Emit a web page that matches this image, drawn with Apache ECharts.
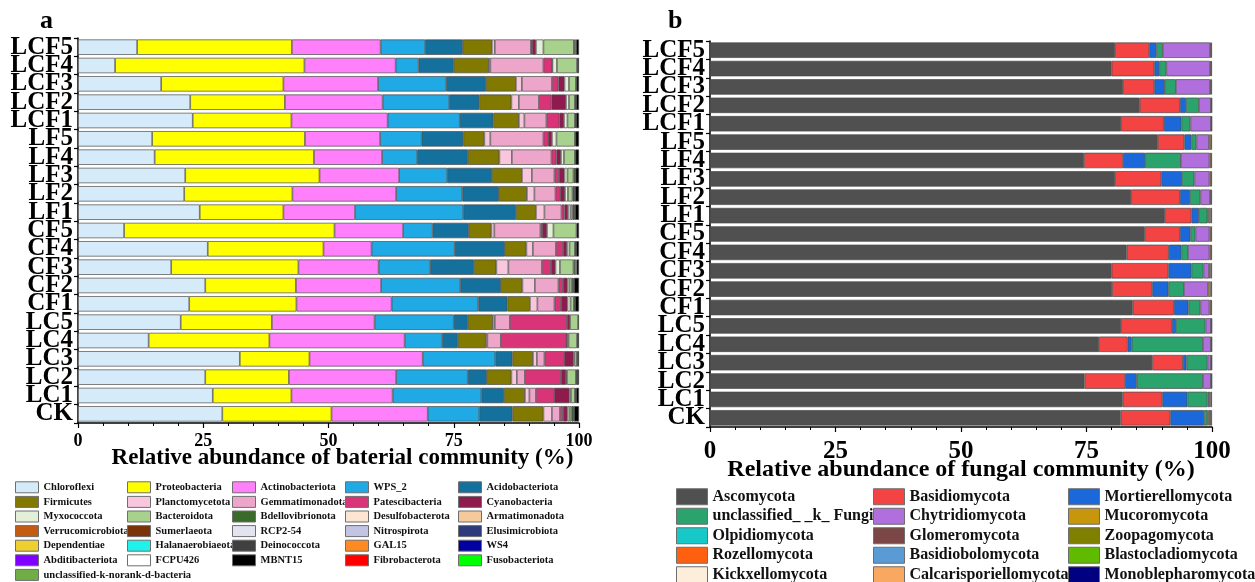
<!DOCTYPE html>
<html>
<head>
<meta charset="utf-8">
<script src="https://cdn.jsdelivr.net/npm/echarts@6/dist/echarts.min.js"></script>
<style>
  html, body { margin: 0; padding: 0; background: #ffffff; }
  #chart { width: 1255px; height: 582px; }
</style>
</head>
<body>
<div id="chart"></div>
<script>
// Samples, top to bottom
const samples = ['LCF5', 'LCF4', 'LCF3', 'LCF2', 'LCF1', 'LF5', 'LF4', 'LF3', 'LF2', 'LF1',
                 'CF5', 'CF4', 'CF3', 'CF2', 'CF1', 'LC5', 'LC4', 'LC3', 'LC2', 'LC1', 'CK'];
const xTicks = [0, 25, 50, 75, 100];

// Bacterial phyla, relative abundance (%) per sample
const Chloroflexi       = [11.8, 7.4, 16.6, 22.4, 22.9, 14.8, 15.3, 21.4, 21.2, 24.3, 9.2, 25.9, 18.6, 25.4, 22.2, 20.5, 14.1, 32.3, 25.4, 26.9, 28.8];
const Proteobacteria    = [30.9, 37.8, 24.4, 18.9, 19.7, 30.5, 31.8, 26.8, 21.6, 16.7, 42.0, 23.1, 25.4, 18.1, 21.4, 18.2, 24.1, 13.9, 16.7, 15.7, 21.8];
const Actinobacteriota  = [17.7, 18.2, 18.9, 19.5, 19.2, 15.0, 13.6, 15.9, 20.7, 14.3, 13.7, 9.6, 16.0, 17.0, 19.0, 20.5, 27.0, 22.6, 21.4, 20.2, 19.2];
const WPS_2             = [8.9, 4.6, 13.6, 13.3, 14.4, 8.3, 7.0, 9.6, 13.2, 21.6, 5.9, 16.6, 10.3, 15.8, 17.3, 15.8, 7.5, 14.5, 14.3, 17.7, 10.3];
const Acidobacteriota   = [7.5, 7.0, 7.9, 6.0, 6.7, 8.3, 10.1, 8.9, 7.3, 10.5, 7.2, 10.0, 8.7, 8.1, 5.8, 2.8, 3.1, 3.4, 3.8, 4.5, 6.6];
const Firmicutes        = [5.8, 7.0, 6.0, 6.4, 5.1, 4.2, 6.3, 6.0, 5.6, 4.0, 4.5, 4.3, 4.5, 4.3, 4.5, 5.0, 5.6, 4.1, 4.9, 4.2, 6.2];
const Planctomycetota   = [0.6, 0.3, 1.2, 1.5, 1.1, 1.2, 2.5, 2.0, 1.5, 1.7, 0.6, 1.3, 2.4, 2.5, 1.5, 0.4, 0.3, 0.8, 1.1, 0.9, 1.7];
const Gemmatimonadota   = [7.2, 10.6, 6.0, 4.0, 4.4, 10.6, 7.9, 4.5, 4.2, 3.4, 9.2, 4.6, 6.7, 4.7, 3.4, 3.0, 2.7, 1.5, 1.6, 1.3, 1.6];
const Patescibacteria   = [0.2, 1.7, 1.3, 2.5, 2.6, 0.9, 1.0, 0.9, 0.9, 0.6, 0.3, 1.4, 1.8, 0.9, 1.3, 11.4, 13.0, 3.9, 7.2, 3.6, 0.6];
const Cyanobacteria     = [0.8, 0.1, 1.2, 2.9, 0.9, 0.8, 0.9, 1.1, 1.0, 0.7, 1.0, 0.8, 0.9, 0.9, 1.3, 0.5, 0.3, 1.9, 1.0, 3.1, 0.9];
const Myxococcota       = [1.5, 0.9, 0.9, 0.6, 0.7, 0.9, 0.6, 0.6, 0.6, 0.5, 1.3, 0.5, 0.9, 0.4, 0.6, 0.1, 0.2, 0.2, 0.2, 0.3, 0.4];
const Bacteroidota      = [6.1, 4.0, 1.4, 1.2, 1.5, 3.7, 2.2, 1.2, 0.9, 0.4, 4.6, 1.1, 2.7, 0.5, 0.7, 1.6, 1.7, 0.5, 1.8, 0.8, 0.4];
const Bdellovibrionota  = [0.1, 0, 0.1, 0.1, 0.1, 0.1, 0.1, 0.3, 0.4, 0.4, 0, 0.1, 0.3, 0.3, 0.1, 0, 0, 0.1, 0.1, 0.1, 0.4];
const Desulfobacterota  = [0, 0, 0, 0.1, 0.1, 0, 0, 0.1, 0.1, 0.1, 0, 0.1, 0, 0.1, 0.1, 0, 0, 0, 0.1, 0.1, 0.1];
const Armatimonadota    = [0.3, 0, 0, 0, 0, 0, 0, 0, 0, 0, 0, 0, 0.3, 0, 0, 0, 0, 0, 0, 0, 0];
const Verrucomicrobiota = [0, 0, 0, 0, 0, 0, 0, 0, 0, 0, 0, 0, 0, 0, 0, 0, 0, 0, 0, 0, 0];
const Sumerlaeota       = [0, 0, 0, 0, 0, 0, 0, 0, 0, 0, 0, 0, 0, 0, 0, 0, 0, 0, 0, 0, 0];
const RCP2_54           = [0, 0, 0, 0, 0, 0, 0, 0, 0, 0, 0, 0, 0, 0, 0, 0, 0, 0, 0, 0, 0];
const Nitrospirota      = [0, 0, 0, 0, 0, 0, 0, 0, 0, 0, 0, 0, 0, 0, 0, 0, 0, 0, 0, 0, 0];
const Elusimicrobiota   = [0, 0, 0, 0, 0, 0, 0, 0, 0, 0, 0, 0, 0, 0, 0, 0, 0, 0, 0, 0, 0];
const Dependentiae      = [0, 0, 0, 0, 0, 0, 0, 0, 0, 0, 0, 0, 0, 0, 0, 0, 0, 0, 0, 0, 0];
const Halanaerobiaeota  = [0, 0, 0, 0, 0, 0, 0, 0, 0, 0, 0, 0, 0, 0, 0, 0, 0, 0, 0, 0, 0];
const Deinococcota      = [0, 0, 0, 0, 0, 0, 0, 0, 0, 0, 0, 0, 0, 0, 0, 0, 0, 0, 0, 0, 0];
const GAL15             = [0, 0, 0, 0, 0, 0, 0, 0, 0, 0, 0, 0, 0, 0, 0, 0, 0, 0, 0, 0, 0];
const WS4               = [0, 0, 0, 0, 0, 0, 0, 0, 0, 0, 0, 0, 0, 0, 0, 0, 0, 0, 0, 0, 0];
const Abditibacteriota  = [0, 0, 0, 0, 0, 0, 0, 0, 0, 0, 0, 0, 0, 0, 0, 0, 0, 0, 0, 0, 0];
const FCPU426           = [0, 0, 0, 0, 0, 0, 0, 0, 0, 0, 0, 0, 0, 0, 0, 0, 0, 0, 0, 0, 0];
const MBNT15            = [0.6, 0.4, 0.5, 0.6, 0.6, 0.7, 0.7, 0.7, 0.8, 0.8, 0.5, 0.6, 0.5, 1.0, 0.8, 0.2, 0.4, 0.3, 0.4, 0.6, 1.0];
const Fibrobacterota    = [0, 0, 0, 0, 0, 0, 0, 0, 0, 0, 0, 0, 0, 0, 0, 0, 0, 0, 0, 0, 0];
const Fusobacteriota    = [0, 0, 0, 0, 0, 0, 0, 0, 0, 0, 0, 0, 0, 0, 0, 0, 0, 0, 0, 0, 0];
const unclassifiedBact  = [0, 0, 0, 0, 0, 0, 0, 0, 0, 0, 0, 0, 0, 0, 0, 0, 0, 0, 0, 0, 0];

// Fungal phyla, relative abundance (%) per sample
const Ascomycota        = [80.7, 80.0, 82.3, 85.6, 81.9, 89.2, 74.5, 80.7, 83.9, 90.6, 86.6, 83.0, 80.0, 80.1, 84.2, 81.9, 77.5, 88.1, 74.6, 82.2, 81.8];
const Basidiomycota     = [6.8, 8.5, 6.2, 8.0, 8.5, 5.3, 7.8, 9.2, 9.7, 5.3, 7.0, 8.4, 11.3, 8.0, 8.2, 10.1, 5.7, 6.1, 8.1, 7.9, 9.9];
const Mortierellomycota = [1.4, 1.0, 2.1, 1.2, 3.5, 1.4, 4.4, 4.1, 2.0, 1.5, 2.1, 2.5, 4.6, 3.2, 2.9, 0.8, 0.8, 0.7, 2.3, 5.0, 6.7];
const unclassifiedFungi = [1.3, 1.4, 2.2, 2.6, 1.8, 1.0, 7.1, 2.5, 2.1, 1.7, 1.0, 1.3, 2.4, 3.1, 2.4, 5.9, 14.2, 4.2, 13.2, 4.0, 0.7];
const Chytridiomycota   = [9.4, 8.7, 6.8, 2.4, 4.1, 2.5, 5.7, 3.0, 1.9, 0.2, 2.8, 4.3, 1.1, 4.8, 1.8, 1.1, 1.6, 0.7, 1.6, 0.3, 0.2];
const Mucoromycota      = [0.2, 0.2, 0.2, 0.1, 0.1, 0.4, 0.3, 0.3, 0.2, 0.4, 0.3, 0.3, 0.3, 0.5, 0.3, 0.1, 0.1, 0.1, 0.1, 0.3, 0.3];
const Olpidiomycota     = [0, 0, 0, 0, 0, 0, 0, 0, 0, 0, 0, 0, 0, 0, 0, 0, 0, 0, 0, 0, 0];
const Glomeromycota     = [0.2, 0.2, 0.2, 0.1, 0.1, 0.2, 0.2, 0.2, 0.2, 0.3, 0.2, 0.2, 0.3, 0.3, 0.2, 0.1, 0.1, 0.1, 0.1, 0.3, 0.4];
const Zoopagomycota     = [0, 0, 0, 0, 0, 0, 0, 0, 0, 0, 0, 0, 0, 0, 0, 0, 0, 0, 0, 0, 0];
const Rozellomycota     = [0, 0, 0, 0, 0, 0, 0, 0, 0, 0, 0, 0, 0, 0, 0, 0, 0, 0, 0, 0, 0];
const Basidiobolomycota = [0, 0, 0, 0, 0, 0, 0, 0, 0, 0, 0, 0, 0, 0, 0, 0, 0, 0, 0, 0, 0];
const Blastocladiomycota= [0, 0, 0, 0, 0, 0, 0, 0, 0, 0, 0, 0, 0, 0, 0, 0, 0, 0, 0, 0, 0];
const Kickxellomycota   = [0, 0, 0, 0, 0, 0, 0, 0, 0, 0, 0, 0, 0, 0, 0, 0, 0, 0, 0, 0, 0];
const Calcarisporiellomycota = [0, 0, 0, 0, 0, 0, 0, 0, 0, 0, 0, 0, 0, 0, 0, 0, 0, 0, 0, 0, 0];
const Monoblepharomycota = [0, 0, 0, 0, 0, 0, 0, 0, 0, 0, 0, 0, 0, 0, 0, 0, 0, 0, 0, 0, 0];

// [legend name, values, fill colour] in stacking order
const bacterialPhyla = [
  ['Chloroflexi', Chloroflexi, '#d5ebfa'],
  ['Proteobacteria', Proteobacteria, '#ffff00'],
  ['Actinobacteriota', Actinobacteriota, '#ff80fa'],
  ['WPS_2', WPS_2, '#1faae6'],
  ['Acidobacteriota', Acidobacteriota, '#14709c'],
  ['Firmicutes', Firmicutes, '#817900'],
  ['Planctomycetota', Planctomycetota, '#f8c6dd'],
  ['Gemmatimonadota', Gemmatimonadota, '#eda6ca'],
  ['Patescibacteria', Patescibacteria, '#da3478'],
  ['Cyanobacteria', Cyanobacteria, '#8f1a4e'],
  ['Myxococcota', Myxococcota, '#e3efd9'],
  ['Bacteroidota', Bacteroidota, '#a9d18e'],
  ['Bdellovibrionota', Bdellovibrionota, '#3a6b2b'],
  ['Desulfobacterota', Desulfobacterota, '#fde5d4'],
  ['Armatimonadota', Armatimonadota, '#f5c99b'],
  ['Verrucomicrobiota', Verrucomicrobiota, '#c55a11'],
  ['Sumerlaeota', Sumerlaeota, '#7a3206'],
  ['RCP2-54', RCP2_54, '#e4e4f0'],
  ['Nitrospirota', Nitrospirota, '#c3c3e3'],
  ['Elusimicrobiota', Elusimicrobiota, '#2e3a7c'],
  ['Dependentiae', Dependentiae, '#eecf2f'],
  ['Halanaerobiaeota', Halanaerobiaeota, '#1ff2ea'],
  ['Deinococcota', Deinococcota, '#404040'],
  ['GAL15', GAL15, '#ff8a22'],
  ['WS4', WS4, '#0000a3'],
  ['Abditibacteriota', Abditibacteriota, '#8000ff'],
  ['FCPU426', FCPU426, '#ffffff'],
  ['MBNT15', MBNT15, '#000000'],
  ['Fibrobacterota', Fibrobacterota, '#ff0000'],
  ['Fusobacteriota', Fusobacteriota, '#00ff00'],
  ['unclassified-k-norank-d-bacteria', unclassifiedBact, '#70ad47']
];

const fungalPhyla = [
  ['Ascomycota', Ascomycota, '#505050'],
  ['Basidiomycota', Basidiomycota, '#f44343'],
  ['Mortierellomycota', Mortierellomycota, '#1a68d9'],
  ['unclassified_ _k_ Fungi', unclassifiedFungi, '#2ba36c'],
  ['Chytridiomycota', Chytridiomycota, '#b06fdc'],
  ['Mucoromycota', Mucoromycota, '#c8960c'],
  ['Olpidiomycota', Olpidiomycota, '#17c8c8'],
  ['Glomeromycota', Glomeromycota, '#7a4646'],
  ['Zoopagomycota', Zoopagomycota, '#7f7f00'],
  ['Rozellomycota', Rozellomycota, '#ff6010'],
  ['Basidiobolomycota', Basidiobolomycota, '#5b9bd5'],
  ['Blastocladiomycota', Blastocladiomycota, '#5fba00'],
  ['Kickxellomycota', Kickxellomycota, '#fdeedb'],
  ['Calcarisporiellomycota', Calcarisporiellomycota, '#f8a860'],
  ['Monoblepharomycota', Monoblepharomycota, '#000080']
];

const SERIF = '"Liberation Serif", "Times New Roman", serif';

function stackedSeries(list, axisIndex, stackId) {
  return list.map(([name, values, color]) => ({
    name: name,
    type: 'bar',
    stack: stackId,
    xAxisIndex: axisIndex,
    yAxisIndex: axisIndex,
    barCategoryGap: '16%',
    itemStyle: { color: color, borderColor: '#4a4a4a', borderWidth: 0.7 },
    emphasis: { disabled: true },
    data: values.map(v => (v === 0 ? '-' : v))
  }));
}

function valueAxis(gridIndex, name, labelSize, labelMargin, nameSize, nameGap, namePad) {
  return {
    type: 'value', gridIndex: gridIndex,
    min: xTicks[0], max: xTicks[xTicks.length - 1], interval: xTicks[1] - xTicks[0],
    name: name, nameLocation: 'middle', nameGap: nameGap, nameMoveOverlap: false,
    nameTextStyle: { fontFamily: SERIF, fontWeight: 'bold', fontSize: nameSize, color: '#000', padding: namePad },
    axisLine: { show: true, lineStyle: { color: '#000', width: 1.5 } },
    axisTick: { show: true, length: 5, lineStyle: { color: '#000', width: 1.2 } },
    minorTick: { show: true, splitNumber: 5, length: 3, lineStyle: { color: '#000', width: 1 } },
    splitLine: { show: false },
    axisLabel: { fontFamily: SERIF, fontWeight: 'bold', fontSize: labelSize, color: '#000', margin: labelMargin }
  };
}

function sampleAxis(gridIndex) {
  return {
    type: 'category', gridIndex: gridIndex, data: samples, inverse: true,
    axisLine: { show: true, lineStyle: { color: '#000', width: 1.5 } },
    axisTick: { show: true, length: 4, lineStyle: { color: '#000', width: 1.2 } },
    axisLabel: { interval: 0, fontFamily: SERIF, fontWeight: 'bold', fontSize: 25, lineHeight: 18, color: '#000', margin: 5 }
  };
}

function legendColumn(names, left, top, itemW, itemH, fontSize, rowH) {
  return {
    orient: 'vertical', left: left, top: top, height: 300, padding: 0, itemGap: 0,
    itemWidth: itemW, itemHeight: itemH, icon: 'rect', selectedMode: false,
    itemStyle: { borderColor: '#6e6e6e', borderWidth: 1 },
    textStyle: { fontFamily: SERIF, fontWeight: 'bold', fontSize: fontSize, color: '#111', lineHeight: rowH },
    data: names
  };
}

const bacNames = bacterialPhyla.map(d => d[0]);
const funNames = fungalPhyla.map(d => d[0]);
const bacCols = [0, 1, 2, 3, 4].map(c => bacNames.filter((_, i) => i % 5 === c));
const funCols = [0, 1, 2].map(c => funNames.filter((_, i) => i % 3 === c));

const chart = echarts.init(document.getElementById('chart'), null, { renderer: 'canvas' });
chart.setOption({
  backgroundColor: '#ffffff',
  animation: false,
  title: [
    { text: 'a', left: 40, top: 8, padding: 0, textStyle: { fontFamily: SERIF, fontWeight: 'bold', fontSize: 26, color: '#000' } },
    { text: 'b', left: 668, top: 8, padding: 0, textStyle: { fontFamily: SERIF, fontWeight: 'bold', fontSize: 26, color: '#000' } }
  ],
  grid: [
    { left: 78, top: 38, width: 501, height: 385 },
    { left: 710, top: 41, width: 502, height: 386 }
  ],
  xAxis: [
    valueAxis(0, 'Relative abundance of baterial community (%)', 18, 9, 23, 24, [0, 0, 0, 28]),
    valueAxis(1, 'Relative abundance of fungal community (%)', 25, 12, 24, 31, 0)
  ],
  yAxis: [sampleAxis(0), sampleAxis(1)],
  legend: [
    legendColumn(bacCols[0], 15, 480, 23, 11, 10.5, 14.6),
    legendColumn(bacCols[1], 127, 480, 23, 11, 10.5, 14.6),
    legendColumn(bacCols[2], 232, 480, 23, 11, 10.5, 14.6),
    legendColumn(bacCols[3], 345, 480, 23, 11, 10.5, 14.6),
    legendColumn(bacCols[4], 458, 480, 23, 11, 10.5, 14.6),
    legendColumn(funCols[0], 676, 487, 31, 16, 16, 19.5),
    legendColumn(funCols[1], 873, 487, 31, 16, 16, 19.5),
    legendColumn(funCols[2], 1068, 487, 31, 16, 16, 19.5)
  ],
  series: stackedSeries(bacterialPhyla, 0, 'bacteria').concat(stackedSeries(fungalPhyla, 1, 'fungi'))
});
</script>
</body>
</html>
